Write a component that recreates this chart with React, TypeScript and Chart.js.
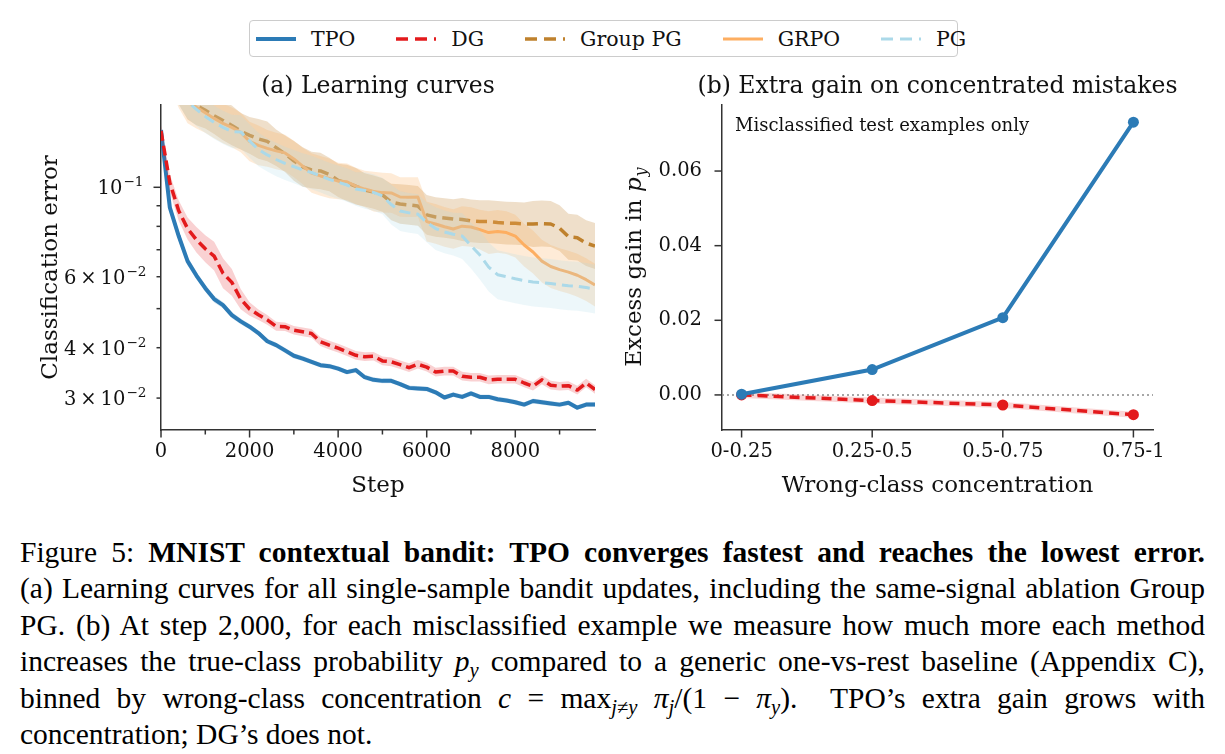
import React, { useEffect, useRef } from 'react';
import { Chart, registerables } from 'chart.js';

Chart.register(...registerables);

const SERIF = "'DejaVu Serif', serif";
const CAPTION_FONT = "'Liberation Serif', 'Times New Roman', serif";
const AXIS_COLOR = '#333333';
const TEXT_COLOR = '#111111';

// ---- (a) learning curves: classification error vs. training step ----
const STEPS = [
  0, 200, 400, 600, 800, 1000, 1200, 1400, 1600, 1800,
  2000, 2200, 2400, 2600, 2800, 3000, 3200, 3400, 3600, 3800,
  4000, 4200, 4400, 4600, 4800, 5000, 5200, 5400, 5600, 5800,
  6000, 6200, 6400, 6600, 6800, 7000, 7200, 7400, 7600, 7800,
  8000, 8200, 8400, 8600, 8800, 9000, 9200, 9400, 9600, 9800,
];

const TPO_ERR = [
  0.1388, 0.089, 0.0757, 0.0656, 0.0604, 0.0562, 0.0528, 0.051, 0.0482, 0.0465,
  0.0451, 0.0435, 0.0415, 0.0406, 0.0394, 0.0382, 0.0376, 0.0369, 0.0362, 0.036,
  0.0355, 0.0348, 0.0352, 0.0338, 0.0333, 0.0331, 0.0331, 0.0325, 0.0318, 0.0317,
  0.0316, 0.031, 0.0301, 0.0306, 0.0302, 0.0308, 0.0302, 0.0302, 0.0298, 0.0296,
  0.0293, 0.0289, 0.0295, 0.0293, 0.0291, 0.0289, 0.0292, 0.0284, 0.0289, 0.0289,
];
const DG_ERR = [
  0.138, 0.1025, 0.0875, 0.079, 0.0741, 0.0704, 0.0675, 0.0612, 0.0581, 0.0528,
  0.0499, 0.0483, 0.0469, 0.0452, 0.0451, 0.0442, 0.0438, 0.0434, 0.0414, 0.0406,
  0.0399, 0.0391, 0.0383, 0.038, 0.0381, 0.0371, 0.0369, 0.0363, 0.0357, 0.0364,
  0.0358, 0.0348, 0.035, 0.035, 0.034, 0.0338, 0.0338, 0.0333, 0.0334, 0.0334,
  0.0334, 0.0327, 0.0321, 0.0333, 0.0323, 0.0321, 0.0322, 0.0314, 0.0327, 0.0315,
];
const GROUP_PG_ERR = [
  0.24, 0.205, 0.18, 0.165, 0.1597, 0.1552, 0.1504, 0.1465, 0.1424, 0.1378,
  0.1345, 0.1318, 0.13, 0.1254, 0.1211, 0.1163, 0.1123, 0.1104, 0.1098, 0.1076,
  0.104, 0.1025, 0.1006, 0.0985, 0.0973, 0.0957, 0.0919, 0.0909, 0.0904, 0.0899,
  0.0854, 0.0844, 0.0839, 0.0834, 0.0832, 0.0825, 0.0822, 0.0822, 0.0818, 0.0815,
  0.0814, 0.0811, 0.0811, 0.0813, 0.0811, 0.0792, 0.0754, 0.075, 0.0727, 0.0715,
];
const GRPO_ERR = [
  0.23, 0.2, 0.178, 0.163, 0.158, 0.153, 0.1482, 0.144, 0.1408, 0.1369,
  0.1299, 0.127, 0.1249, 0.1231, 0.1217, 0.1176, 0.1129, 0.1085, 0.1067, 0.1052,
  0.1036, 0.1032, 0.1007, 0.099, 0.0976, 0.097, 0.0968, 0.0946, 0.0945, 0.0946,
  0.0822, 0.0811, 0.0798, 0.0788, 0.0801, 0.0797, 0.0785, 0.0772, 0.0777, 0.0772,
  0.0757, 0.0719, 0.0691, 0.0656, 0.0636, 0.0625, 0.0616, 0.0605, 0.059, 0.0572,
];
const PG_ERR = [
  0.225, 0.195, 0.176, 0.163, 0.156, 0.1499, 0.1449, 0.1408, 0.1375, 0.1372,
  0.1303, 0.1241, 0.1203, 0.1172, 0.1146, 0.1125, 0.1104, 0.1088, 0.1067, 0.1046,
  0.103, 0.1013, 0.099, 0.0982, 0.0971, 0.0952, 0.0906, 0.0873, 0.0864, 0.0858,
  0.0818, 0.079, 0.0775, 0.0765, 0.0757, 0.0717, 0.0679, 0.0634, 0.0607, 0.06,
  0.0593, 0.0587, 0.0582, 0.058, 0.0577, 0.0573, 0.057, 0.0568, 0.0564, 0.0559,
];

// relative half-width of the shaded band around each curve
const TPO_SPREAD = [
  0.02, 0.03, 0.03, 0.025, 0.022, 0.02, 0.02, 0.018, 0.018, 0.016,
  0.016, 0.015, 0.015, 0.015, 0.015, 0.015, 0.014, 0.014, 0.014, 0.014,
  0.014, 0.014, 0.014, 0.014, 0.014, 0.014, 0.014, 0.014, 0.014, 0.014,
  0.014, 0.014, 0.014, 0.014, 0.014, 0.014, 0.014, 0.014, 0.014, 0.014,
  0.014, 0.014, 0.014, 0.014, 0.014, 0.014, 0.014, 0.014, 0.014, 0.014,
];
const DG_SPREAD = [
  0.03, 0.05, 0.06, 0.065, 0.075, 0.08, 0.085, 0.09, 0.08, 0.06,
  0.04, 0.03, 0.028, 0.026, 0.025, 0.025, 0.025, 0.025, 0.025, 0.025,
  0.025, 0.025, 0.025, 0.025, 0.025, 0.025, 0.025, 0.025, 0.025, 0.025,
  0.025, 0.025, 0.025, 0.025, 0.025, 0.025, 0.025, 0.025, 0.025, 0.025,
  0.025, 0.025, 0.025, 0.025, 0.025, 0.025, 0.025, 0.025, 0.025, 0.025,
];
const GROUP_PG_SPREAD = [
  0.12, 0.12, 0.12, 0.12, 0.12, 0.11, 0.11, 0.12, 0.12, 0.11,
  0.11, 0.12, 0.12, 0.11, 0.11, 0.12, 0.12, 0.11, 0.11, 0.1,
  0.1, 0.11, 0.11, 0.1, 0.1, 0.1, 0.11, 0.12, 0.12, 0.12,
  0.12, 0.12, 0.12, 0.12, 0.13, 0.13, 0.13, 0.13, 0.13, 0.13,
  0.13, 0.13, 0.14, 0.14, 0.14, 0.14, 0.14, 0.14, 0.14, 0.14,
];
const GRPO_SPREAD = [
  0.13, 0.13, 0.13, 0.13, 0.13, 0.12, 0.12, 0.12, 0.12, 0.12,
  0.12, 0.12, 0.11, 0.11, 0.11, 0.11, 0.11, 0.12, 0.12, 0.12,
  0.11, 0.11, 0.11, 0.11, 0.12, 0.12, 0.12, 0.12, 0.12, 0.12,
  0.12, 0.12, 0.12, 0.12, 0.12, 0.12, 0.12, 0.13, 0.13, 0.13,
  0.13, 0.13, 0.13, 0.13, 0.13, 0.13, 0.13, 0.13, 0.13, 0.13,
];
const PG_SPREAD = [
  0.1, 0.1, 0.1, 0.1, 0.1, 0.1, 0.1, 0.1, 0.1, 0.1,
  0.1, 0.1, 0.1, 0.1, 0.1, 0.1, 0.1, 0.1, 0.1, 0.1,
  0.1, 0.1, 0.1, 0.11, 0.11, 0.11, 0.12, 0.12, 0.12, 0.12,
  0.12, 0.13, 0.13, 0.13, 0.14, 0.14, 0.15, 0.15, 0.15, 0.15,
  0.15, 0.15, 0.15, 0.15, 0.15, 0.15, 0.15, 0.15, 0.15, 0.15,
];

const STEP_MAJOR = [0, 2000, 4000, 6000, 8000];
const STEP_MINOR = [1000, 3000, 5000, 7000, 9000];
const ERR_MAJOR = [0.1];
const ERR_MINOR = [0.03, 0.04, 0.05, 0.06, 0.07, 0.08, 0.09];
// labelled log ticks: value, mantissa text, exponent
const ERR_LABELS: [number, string, string][] = [
  [0.03, '3\u2009×\u200910', '−2'],
  [0.04, '4\u2009×\u200910', '−2'],
  [0.06, '6\u2009×\u200910', '−2'],
  [0.1, '10', '−1'],
];

// ---- (b) extra gain in p_y per wrong-class concentration bin ----
const CONC_BINS = ['0-0.25', '0.25-0.5', '0.5-0.75', '0.75-1'];
const TPO_GAIN = [0.0002, 0.0068, 0.0207, 0.0731];
const DG_GAIN = [0.0, -0.0015, -0.0027, -0.0053];
const DG_GAIN_SPREAD = [0.0008, 0.0008, 0.0008, 0.0008];
const GAIN_TICKS = [0, 0.02, 0.04, 0.06];
const GAIN_X_MIN = -0.15;
const GAIN_X_MAX = 3.15;

interface Series {
  label: string;
  values: number[];
  spread: number[];
  color: string;
  width: number;
  dash: number[];
  bandAlpha: number;
}

const SERIES: Series[] = [
  { label: 'TPO', values: TPO_ERR, spread: TPO_SPREAD, color: '#2c7bb6', width: 4, dash: [], bandAlpha: 0.2 },
  { label: 'DG', values: DG_ERR, spread: DG_SPREAD, color: '#e31a1c', width: 3.5, dash: [10, 5], bandAlpha: 0.2 },
  { label: 'Group PG', values: GROUP_PG_ERR, spread: GROUP_PG_SPREAD, color: '#bf812d', width: 3.5, dash: [11, 6], bandAlpha: 0.25 },
  { label: 'GRPO', values: GRPO_ERR, spread: GRPO_SPREAD, color: '#fdae61', width: 3, dash: [], bandAlpha: 0.25 },
  { label: 'PG', values: PG_ERR, spread: PG_SPREAD, color: '#abd9e9', width: 3, dash: [11, 6], bandAlpha: 0.22 },
];

function rgba(hex: string, a: number): string {
  const n = parseInt(hex.slice(1), 16);
  return `rgba(${(n >> 16) & 255}, ${(n >> 8) & 255}, ${n & 255}, ${a})`;
}

const MAJOR_TICK = 7.5;
const MINOR_TICK = 4.5;
const TICK_FONT_SIZE = 19.5;

interface TickSpec {
  xMajor: number[];
  xMinor: number[];
  yMajor: number[];
  yMinor: number[];
}

// outward tick marks of two lengths, placed through the chart's own scales
function tickMarks(spec: TickSpec) {
  return {
    id: 'tickMarks',
    afterDraw(chart: any) {
      const { ctx, chartArea } = chart;
      const xs = chart.scales.x;
      const ys = chart.scales.y;
      ctx.save();
      ctx.strokeStyle = AXIS_COLOR;
      ctx.lineWidth = 1.5;
      const seg = (x1: number, y1: number, x2: number, y2: number) => {
        ctx.beginPath();
        ctx.moveTo(x1, y1);
        ctx.lineTo(x2, y2);
        ctx.stroke();
      };
      const b = chartArea.bottom;
      const l = chartArea.left;
      spec.xMajor.forEach((v) => { const p = xs.getPixelForValue(v); seg(p, b, p, b + MAJOR_TICK); });
      spec.xMinor.forEach((v) => { const p = xs.getPixelForValue(v); seg(p, b, p, b + MINOR_TICK); });
      spec.yMajor.forEach((v) => { const p = ys.getPixelForValue(v); seg(l - MAJOR_TICK, p, l, p); });
      spec.yMinor.forEach((v) => { const p = ys.getPixelForValue(v); seg(l - MINOR_TICK, p, l, p); });
      ctx.restore();
    },
  };
}

// scientific-notation labels (mantissa × 10 with a raised exponent) for the log axis
const logTickLabels = {
  id: 'logTickLabels',
  afterDraw(chart: any) {
    const { ctx, chartArea } = chart;
    const ys = chart.scales.y;
    const supSize = TICK_FONT_SIZE * 0.7;
    ctx.save();
    ctx.fillStyle = TEXT_COLOR;
    ctx.textBaseline = 'alphabetic';
    ctx.textAlign = 'left';
    ERR_LABELS.forEach(([value, base, exp]) => {
      const len = ERR_MAJOR.includes(value) ? MAJOR_TICK : MINOR_TICK;
      const right = chartArea.left - len - 10;
      const p = ys.getPixelForValue(value);
      ctx.font = `${supSize}px ${SERIF}`;
      const we = ctx.measureText(exp).width;
      ctx.font = `${TICK_FONT_SIZE}px ${SERIF}`;
      const wb = ctx.measureText(base).width;
      const baseline = p + 7;
      ctx.fillText(base, right - we - wb - 1, baseline);
      ctx.font = `${supSize}px ${SERIF}`;
      ctx.fillText(exp, right - we, baseline - 8);
    });
    ctx.restore();
  },
};

function panelTitle(text: string) {
  return {
    id: 'panelTitle',
    afterDraw(chart: any) {
      const { ctx, chartArea } = chart;
      ctx.save();
      ctx.font = `23.5px ${SERIF}`;
      ctx.fillStyle = TEXT_COLOR;
      ctx.textAlign = 'center';
      ctx.textBaseline = 'middle';
      ctx.fillText(text, (chartArea.left + chartArea.right) / 2, chartArea.top - 18);
      ctx.restore();
    },
  };
}

const cornerNote = {
  id: 'cornerNote',
  afterDraw(chart: any) {
    const { ctx, chartArea } = chart;
    ctx.save();
    ctx.font = `18px ${SERIF}`;
    ctx.fillStyle = TEXT_COLOR;
    ctx.textAlign = 'left';
    ctx.textBaseline = 'middle';
    ctx.fillText('Misclassified test examples only', chartArea.left + 13, chartArea.top + 21);
    ctx.restore();
  },
};

// y-axis title with an italic, subscripted p_y
const gainAxisTitle = {
  id: 'gainAxisTitle',
  afterDraw(chart: any) {
    const { ctx, chartArea } = chart;
    const size = 23;
    const head = 'Excess gain in ';
    ctx.save();
    ctx.translate(23, (chartArea.top + chartArea.bottom) / 2);
    ctx.rotate(-Math.PI / 2);
    ctx.fillStyle = TEXT_COLOR;
    ctx.textBaseline = 'alphabetic';
    ctx.textAlign = 'left';
    ctx.font = `${size}px ${SERIF}`;
    const w1 = ctx.measureText(head).width;
    ctx.font = `italic ${size}px ${SERIF}`;
    const w2 = ctx.measureText('p').width;
    ctx.font = `italic ${size * 0.7}px ${SERIF}`;
    const w3 = ctx.measureText('y').width;
    const x0 = -(w1 + w2 + w3) / 2;
    const base = size * 0.33;
    ctx.font = `${size}px ${SERIF}`;
    ctx.fillText(head, x0, base);
    ctx.font = `italic ${size}px ${SERIF}`;
    ctx.fillText('p', x0 + w1, base);
    ctx.font = `italic ${size * 0.7}px ${SERIF}`;
    ctx.fillText('y', x0 + w1 + w2 + 1, base + size * 0.22);
    ctx.restore();
  },
};

const tickFont = { family: SERIF, size: TICK_FONT_SIZE };
const titleFont = { family: SERIF, size: 23 };

function learningConfig(): any {
  const datasets: any[] = [];
  SERIES.forEach((s, k) => {
    const pts = (f: (i: number) => number) => STEPS.map((x, i) => ({ x, y: f(i) }));
    datasets.push({
      data: pts((i) => s.values[i] * (1 + s.spread[i])),
      fill: '+1',
      backgroundColor: rgba(s.color, s.bandAlpha),
      borderColor: 'transparent',
      borderWidth: 0,
      pointRadius: 0,
      order: 100 - 2 * k,
      clip: 0,
    });
    datasets.push({
      data: pts((i) => s.values[i] / (1 + s.spread[i])),
      fill: false,
      borderColor: 'transparent',
      borderWidth: 0,
      pointRadius: 0,
      order: 100 - 2 * k,
      clip: 0,
    });
    datasets.push({
      label: s.label,
      data: pts((i) => s.values[i]),
      fill: false,
      borderColor: s.color,
      borderWidth: s.width,
      borderDash: s.dash,
      borderJoinStyle: 'round',
      pointRadius: 0,
      tension: 0,
      order: 99 - 2 * k,
      clip: 0,
    });
  });

  return {
    type: 'line',
    data: { datasets },
    options: {
      animation: false,
      responsive: false,
      maintainAspectRatio: false,
      layout: { padding: { left: 0, top: 45, right: 15, bottom: 0 } },
      plugins: { legend: { display: false }, tooltip: { enabled: false } },
      scales: {
        x: {
          type: 'linear',
          min: 0,
          max: 9800,
          grid: { display: false, drawTicks: false },
          border: { display: true, color: AXIS_COLOR, width: 1.5 },
          afterBuildTicks: (axis: any) => {
            axis.ticks = [...STEP_MAJOR, ...STEP_MINOR].sort((a, b) => a - b).map((value) => ({ value }));
          },
          afterFit: (axis: any) => { axis.height = 80; },
          ticks: {
            autoSkip: false,
            maxRotation: 0,
            padding: 10,
            color: TEXT_COLOR,
            font: tickFont,
            callback: (v: number) => (STEP_MAJOR.includes(v) ? String(v) : ''),
          },
          title: { display: true, text: 'Step', color: TEXT_COLOR, font: titleFont, padding: { top: 0, bottom: 10 } },
        },
        y: {
          type: 'logarithmic',
          min: 0.025,
          max: 0.16,
          grid: { display: false, drawTicks: false },
          border: { display: true, color: AXIS_COLOR, width: 1.5 },
          afterBuildTicks: (axis: any) => {
            axis.ticks = [...ERR_MINOR, ...ERR_MAJOR].map((value) => ({ value }));
          },
          afterFit: (axis: any) => { axis.width = 161; },
          ticks: {
            autoSkip: false,
            padding: 14,
            color: TEXT_COLOR,
            font: tickFont,
            callback: () => '',
          },
          title: {
            display: true,
            text: 'Classification error',
            color: TEXT_COLOR,
            font: titleFont,
            padding: { top: 37, bottom: 0 },
          },
        },
      },
    },
    plugins: [
      tickMarks({ xMajor: STEP_MAJOR, xMinor: STEP_MINOR, yMajor: ERR_MAJOR, yMinor: ERR_MINOR }),
      logTickLabels,
      panelTitle('(a) Learning curves'),
    ],
  };
}

function gainConfig(): any {
  const red = SERIES[1].color;
  const blue = SERIES[0].color;
  const pts = (vals: number[]) => vals.map((y, x) => ({ x, y }));
  return {
    type: 'line',
    data: {
      datasets: [
        {
          label: 'TPO',
          data: pts(TPO_GAIN),
          borderColor: blue,
          backgroundColor: blue,
          borderWidth: 4,
          pointRadius: 5.5,
          pointBorderWidth: 0,
          pointBackgroundColor: blue,
          fill: false,
          order: 1,
        },
        {
          label: 'DG',
          data: pts(DG_GAIN),
          borderColor: red,
          backgroundColor: red,
          borderWidth: 3.5,
          borderDash: [10, 6],
          pointRadius: 5.5,
          pointBorderWidth: 0,
          pointBackgroundColor: red,
          fill: false,
          order: 2,
        },
        {
          data: DG_GAIN.map((y, x) => ({ x, y: y + DG_GAIN_SPREAD[x] })),
          fill: '+1',
          backgroundColor: rgba(red, 0.18),
          borderColor: 'transparent',
          borderWidth: 0,
          pointRadius: 0,
          order: 3,
        },
        {
          data: DG_GAIN.map((y, x) => ({ x, y: y - DG_GAIN_SPREAD[x] })),
          fill: false,
          borderColor: 'transparent',
          borderWidth: 0,
          pointRadius: 0,
          order: 3,
        },
        {
          data: [{ x: GAIN_X_MIN, y: 0 }, { x: GAIN_X_MAX, y: 0 }],
          borderColor: '#8a8a8a',
          borderWidth: 1.6,
          borderDash: [2, 3],
          pointRadius: 0,
          fill: false,
          order: 4,
        },
      ],
    },
    options: {
      animation: false,
      responsive: false,
      maintainAspectRatio: false,
      layout: { padding: { left: 0, top: 45, right: 72, bottom: 0 } },
      plugins: { legend: { display: false }, tooltip: { enabled: false } },
      scales: {
        x: {
          type: 'linear',
          min: GAIN_X_MIN,
          max: GAIN_X_MAX,
          grid: { display: false, drawTicks: false },
          border: { display: true, color: AXIS_COLOR, width: 1.5 },
          afterBuildTicks: (axis: any) => {
            axis.ticks = CONC_BINS.map((_, value) => ({ value }));
          },
          afterFit: (axis: any) => { axis.height = 80; },
          ticks: {
            autoSkip: false,
            maxRotation: 0,
            padding: 10,
            color: TEXT_COLOR,
            font: tickFont,
            callback: (v: number) => CONC_BINS[Math.round(v)] ?? '',
          },
          title: {
            display: true,
            text: 'Wrong-class concentration',
            color: TEXT_COLOR,
            font: titleFont,
            padding: { top: 0, bottom: 10 },
          },
        },
        y: {
          type: 'linear',
          min: -0.0094,
          max: 0.0777,
          grid: { display: false, drawTicks: false },
          border: { display: true, color: AXIS_COLOR, width: 1.5 },
          afterBuildTicks: (axis: any) => {
            axis.ticks = GAIN_TICKS.map((value) => ({ value }));
          },
          afterFit: (axis: any) => { axis.width = 112; },
          ticks: {
            autoSkip: false,
            padding: 20,
            color: TEXT_COLOR,
            font: tickFont,
            callback: (v: number) => v.toFixed(2),
          },
        },
      },
    },
    plugins: [
      tickMarks({ xMajor: CONC_BINS.map((_, i) => i), xMinor: [], yMajor: GAIN_TICKS, yMinor: [] }),
      panelTitle('(b) Extra gain on concentrated mistakes'),
      cornerNote,
      gainAxisTitle,
    ],
  };
}

function LegendHandle({ color, width, dash }: { color: string; width: number; dash: number[] }) {
  return (
    <svg width={40} height={12} style={{ display: 'block', marginRight: 15 }}>
      <line
        x1={0}
        y1={6}
        x2={40}
        y2={6}
        stroke={color}
        strokeWidth={width}
        strokeDasharray={dash.length ? '12 7' : undefined}
      />
    </svg>
  );
}

function FigureLegend() {
  return (
    <div
      style={{
        position: 'absolute',
        left: 249,
        top: 20,
        width: 709,
        height: 37,
        boxSizing: 'border-box',
        border: '1.5px solid #cccccc',
        borderRadius: 4,
        background: '#fff',
        display: 'flex',
        alignItems: 'center',
        paddingLeft: 6,
        fontFamily: SERIF,
        fontSize: 20.5,
        color: TEXT_COLOR,
      }}
    >
      {SERIES.map((s, i) => (
        <div
          key={s.label}
          style={{ display: 'flex', alignItems: 'center', marginRight: i < SERIES.length - 1 ? 41 : 0 }}
        >
          <LegendHandle color={s.color} width={s.width} dash={s.dash} />
          <span style={{ whiteSpace: 'nowrap', lineHeight: '24px' }}>{s.label}</span>
        </div>
      ))}
    </div>
  );
}

const subStyle: React.CSSProperties = {
  fontSize: '0.7em',
  position: 'relative',
  top: '0.3em',
  lineHeight: 0,
  verticalAlign: 'baseline',
};

function Caption() {
  const line: React.CSSProperties = {
    height: 36.4,
    lineHeight: '36.4px',
    textAlign: 'justify',
    textAlignLast: 'justify',
  };
  return (
    <div
      style={{
        position: 'absolute',
        left: 20,
        top: 534,
        width: 1185,
        fontFamily: CAPTION_FONT,
        fontSize: 29.5,
        color: '#000',
      }}
    >
      <div style={line}>
        Figure 5: <b>MNIST contextual bandit: TPO converges fastest and reaches the lowest error.</b>
      </div>
      <div style={line}>
        (a) Learning curves for all single-sample bandit updates, including the same-signal ablation Group
      </div>
      <div style={line}>
        PG. (b) At step 2,000, for each misclassified example we measure how much more each method
      </div>
      <div style={line}>
        increases the true-class probability <i>p</i>
        <span style={subStyle}><i>y</i></span> compared to a generic one-vs-rest baseline (Appendix C),
      </div>
      <div style={line}>
        binned by wrong-class concentration <i>c</i> = max<span style={subStyle}><i>j</i>≠<i>y</i></span>{' '}
        <i>π</i><span style={subStyle}><i>j</i></span>/(1 − <i>π</i><span style={subStyle}><i>y</i></span>).
        &nbsp;TPO’s extra gain grows with
      </div>
      <div style={{ ...line, textAlignLast: 'left' }}>concentration; DG’s does not.</div>
    </div>
  );
}

export default function App() {
  const leftRef = useRef<HTMLCanvasElement>(null);
  const rightRef = useRef<HTMLCanvasElement>(null);

  useEffect(() => {
    const left = new Chart(leftRef.current as HTMLCanvasElement, learningConfig());
    const right = new Chart(rightRef.current as HTMLCanvasElement, gainConfig());
    return () => {
      left.destroy();
      right.destroy();
    };
  }, []);

  return (
    <div
      style={{
        position: 'absolute',
        left: 0,
        top: 0,
        width: 1225,
        height: 754,
        background: '#fff',
        overflow: 'hidden',
      }}
    >
      <FigureLegend />
      <div style={{ position: 'absolute', left: 0, top: 60, width: 610, height: 450 }}>
        <canvas ref={leftRef} width={610} height={450} style={{ display: 'block' }} />
      </div>
      <div style={{ position: 'absolute', left: 610, top: 60, width: 615, height: 450 }}>
        <canvas ref={rightRef} width={615} height={450} style={{ display: 'block' }} />
      </div>
      <Caption />
    </div>
  );
}
